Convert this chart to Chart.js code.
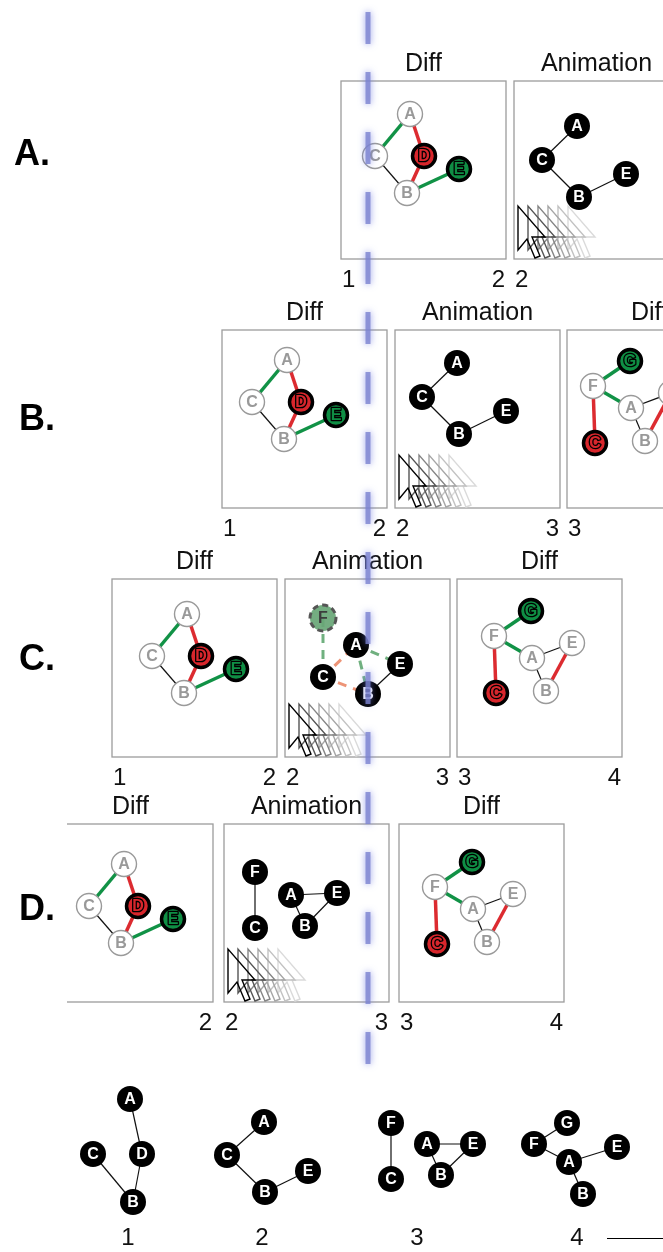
<!DOCTYPE html>
<html>
<head>
<meta charset="utf-8">
<script src="https://cdn.jsdelivr.net/npm/chart.js@4.4.0/dist/chart.umd.min.js"></script>
<style>
  html, body { margin: 0; padding: 0; background: #fff; }
  #wrap { width: 663px; height: 1252px; }
  canvas { display: block; }
</style>
</head>
<body>
<div id="wrap"><canvas id="fig" width="663" height="1252"></canvas></div>
<script>
// page space is 663 x 1252, y grows downward (y axis reversed)
const W = 663, H = 1252;

// ---- rows and panels ----
const rowLetters = ['A.', 'B.', 'C.', 'D.'];
const rowLetterX = [14, 19, 19, 19];
const rowLetterY = [155, 420, 660, 910];

const panelLeft   = [341, 514, 222, 395, 567, 112, 285, 457, 48, 224, 399];
const panelTop    = [81, 81, 330, 330, 330, 579, 579, 579, 824, 824, 824];
const panelTitle  = ['Diff', 'Animation', 'Diff', 'Animation', 'Diff', 'Diff', 'Animation', 'Diff', 'Diff', 'Animation', 'Diff'];
const panelFrom   = ['1', '2', '1', '2', '3', '1', '2', '3', '', '2', '3'];
const panelTo     = ['2', '', '2', '3', '', '2', '3', '4', '2', '3', '4'];
const panelCursor = [false, true, false, true, false, false, true, false, false, true, false];
const PANEL_W = 165, PANEL_H = 178;
const CROP_LEFT = 67; // source figure is cut off here (row D)

// ---- graph shapes ----
// diff 1 -> 2 (relative to node A)
const diffNames = ['A', 'C', 'D', 'E', 'B'];
const diffDx    = [0, -35, 14, 49, -3];
const diffDy    = [0, 42, 42, 55, 79];
const diffState = ['same', 'same', 'removed', 'added', 'same'];
const diffEdges = [['A', 'C', 'added'], ['A', 'D', 'removed'], ['D', 'B', 'removed'], ['C', 'B', 'thin'], ['B', 'E', 'added']];
const diffAnchorX = [410, 287, 187, 124];
const diffAnchorY = [114, 360, 614, 864];

// state 2 in animation panels (relative to node A)
const anim2Names = ['A', 'C', 'E', 'B'];
const anim2Dx    = [0, -35, 49, 2];
const anim2Dy    = [0, 34, 48, 71];
const anim2Edges = [['A', 'C', 'thin'], ['C', 'B', 'thin'], ['B', 'E', 'thin']];
const anim2AnchorX = [577, 457];
const anim2AnchorY = [126, 363];

// diff 3 -> 4 (relative to node F)
const diff3Names = ['F', 'G', 'E', 'A', 'B', 'C'];
const diff3Dx    = [0, 37, 78, 38, 52, 2];
const diff3Dy    = [0, -25, 7, 22, 55, 57];
const diff3State = ['same', 'added', 'same', 'same', 'same', 'removed'];
const diff3Edges = [['F', 'G', 'added'], ['F', 'A', 'added'], ['F', 'C', 'removed'], ['A', 'E', 'thin'], ['A', 'B', 'thin'], ['B', 'E', 'removed']];
const diff3AnchorX = [593, 494, 435];
const diff3AnchorY = [386, 636, 887];

// row C animation, mid transition 2 -> 3
const midNames = ['F', 'A', 'C', 'E', 'B'];
const midX     = [323, 356, 323, 400, 368];
const midY     = [618, 645, 677, 664, 694];
const midState = ['appear', 'black', 'black', 'black', 'black'];
const midEdges = [['F', 'C', 'fadeIn'], ['C', 'A', 'fadeOut'], ['C', 'B', 'fadeOut'], ['A', 'B', 'fadeIn'], ['A', 'E', 'fadeIn'], ['B', 'E', 'thin']];

// row D animation, state 3
const rowD3Names = ['F', 'C', 'A', 'E', 'B'];
const rowD3X     = [255, 255, 291, 337, 305];
const rowD3Y     = [872, 928, 895, 893, 926];
const state3Edges = [['F', 'C', 'thin'], ['A', 'E', 'thin'], ['A', 'B', 'thin'], ['B', 'E', 'thin']];

// bottom strip: states 1..4
const stepLabels = ['1', '2', '3', '4'];
const stepLabelX = [128, 262, 417, 577];
const stepLabelY = 1238;
const step1Names = ['A', 'D', 'C', 'B'];
const step1X = [130, 142, 93, 133];
const step1Y = [1099, 1154, 1154, 1202];
const step1Edges = [['A', 'D', 'thin'], ['D', 'B', 'thin'], ['C', 'B', 'thin']];
const step2Names = ['A', 'C', 'E', 'B'];
const step2X = [264, 227, 308, 265];
const step2Y = [1122, 1155, 1171, 1192];
const step3Names = ['F', 'C', 'A', 'E', 'B'];
const step3X = [391, 391, 427, 473, 441];
const step3Y = [1123, 1179, 1144, 1144, 1175];
const step4Names = ['G', 'F', 'A', 'E', 'B'];
const step4X = [567, 534, 569, 617, 583];
const step4Y = [1123, 1144, 1162, 1147, 1194];
const step4Edges = [['F', 'G', 'thin'], ['F', 'A', 'thin'], ['A', 'E', 'thin'], ['A', 'B', 'thin']];

// playhead
const playheadX = 368;
const playheadY = [12, 1070];

// ---- styles ----
const nodeStyles = {
    black:   { bg: '#000', border: '#000', bw: 0, r: 13, text: '#fff' },
    same:    { bg: '#fff', border: '#9a9a9a', bw: 1.4, r: 12.5, text: '#999' },
    added:   { bg: '#0f8e44', border: '#000', bw: 3.5, r: 11.5, text: '#0f8e44', outline: true },
    removed: { bg: '#d8262c', border: '#000', bw: 3.5, r: 11.5, text: '#d8262c', outline: true },
    appear:  { bg: 'rgba(104,166,118,0.92)', border: 'rgba(0,0,0,0)', bw: 0, r: 13, text: '#3c3c3c', dashedRing: true }
};
const edgeStyles = {
    thin:    { color: '#111', width: 1.2, dash: [] },
    added:   { color: '#119246', width: 3.5, dash: [] },
    removed: { color: '#dc2b30', width: 3.5, dash: [] },
    fadeIn:  { color: 'rgba(104,172,120,0.95)', width: 3, dash: [9, 7] },
    fadeOut: { color: 'rgba(236,142,112,0.95)', width: 3, dash: [9, 7] }
};
const FONT = '"Liberation Sans", Arial, Helvetica, sans-serif';

// ---- build graphs ----
function placeRel(names, dx, dy, ax, ay) {
    const m = {};
    names.forEach((n, i) => { m[n] = { x: ax + dx[i], y: ay + dy[i] }; });
    return m;
}
function placeAbs(names, xs, ys) {
    const m = {};
    names.forEach((n, i) => { m[n] = { x: xs[i], y: ys[i] }; });
    return m;
}
function stateMap(names, states) {
    const m = {};
    names.forEach((n, i) => { m[n] = states ? states[i] : 'black'; });
    return m;
}

const graphs = [];
diffAnchorX.forEach((ax, i) => graphs.push({
    pos: placeRel(diffNames, diffDx, diffDy, ax, diffAnchorY[i]),
    state: stateMap(diffNames, diffState), edges: diffEdges
}));
anim2AnchorX.forEach((ax, i) => graphs.push({
    pos: placeRel(anim2Names, anim2Dx, anim2Dy, ax, anim2AnchorY[i]),
    state: stateMap(anim2Names), edges: anim2Edges
}));
diff3AnchorX.forEach((ax, i) => graphs.push({
    pos: placeRel(diff3Names, diff3Dx, diff3Dy, ax, diff3AnchorY[i]),
    state: stateMap(diff3Names, diff3State), edges: diff3Edges
}));
graphs.push({ pos: placeAbs(midNames, midX, midY), state: stateMap(midNames, midState), edges: midEdges });
graphs.push({ pos: placeAbs(rowD3Names, rowD3X, rowD3Y), state: stateMap(rowD3Names), edges: state3Edges });
graphs.push({ pos: placeAbs(step1Names, step1X, step1Y), state: stateMap(step1Names), edges: step1Edges });
graphs.push({ pos: placeAbs(step2Names, step2X, step2Y), state: stateMap(step2Names), edges: anim2Edges });
graphs.push({ pos: placeAbs(step3Names, step3X, step3Y), state: stateMap(step3Names), edges: state3Edges });
graphs.push({ pos: placeAbs(step4Names, step4X, step4Y), state: stateMap(step4Names), edges: step4Edges });

const datasets = [];

// playhead on top of everything
datasets.push({
    data: [{ x: playheadX, y: playheadY[0] }, { x: playheadX, y: playheadY[1] }],
    showLine: true, pointRadius: 0, borderColor: 'rgba(122,130,208,0.8)', borderWidth: 5,
    borderDash: [32, 28], borderCapStyle: 'butt', glow: true, order: 1, clip: false
});

// nodes grouped by style
Object.keys(nodeStyles).forEach(key => {
    const s = nodeStyles[key];
    const pts = [];
    graphs.forEach(g => {
        Object.keys(g.pos).forEach(n => {
            if (g.state[n] === key) pts.push({ x: g.pos[n].x, y: g.pos[n].y, name: n });
        });
    });
    datasets.push({
        data: pts, nodeStyle: key, showLine: false,
        pointRadius: s.r, pointBackgroundColor: s.bg, pointBorderColor: s.border, pointBorderWidth: s.bw,
        order: 2, clip: false
    });
});

// edges, one line per edge
graphs.forEach(g => {
    g.edges.forEach(([a, b, style]) => {
        const s = edgeStyles[style];
        datasets.push({
            data: [g.pos[a], g.pos[b]].map(p => ({ x: p.x, y: p.y })),
            showLine: true, pointRadius: 0, borderColor: s.color, borderWidth: s.width,
            borderDash: s.dash, borderCapStyle: 'butt', order: 3, clip: false
        });
    });
});

// ---- drawing helpers ----
function drawCursorTrail(ctx, x, y) {
    const arrow = [[0, 0], [0, 44], [9, 33], [17, 52], [22, 50], [14, 31], [27, 31]];
    const shades = ['#dadada', '#c2c2c2', '#a6a6a6', '#858585', '#555', '#000'];
    const offs = [50, 40, 30, 20, 10, 0];
    ctx.save();
    ctx.lineWidth = 1.4;
    offs.forEach((o, k) => {
        ctx.strokeStyle = shades[k];
        ctx.beginPath();
        arrow.forEach(([px, py], i) => {
            if (i === 0) ctx.moveTo(x + o + px, y + py); else ctx.lineTo(x + o + px, y + py);
        });
        ctx.closePath();
        ctx.stroke();
    });
    ctx.restore();
}

const figurePlugin = {
    id: 'figure',
    beforeDatasetsDraw(chart) {
        const ctx = chart.ctx;
        const sx = v => chart.scales.x.getPixelForValue(v);
        const sy = v => chart.scales.y.getPixelForValue(v);
        ctx.save();
        ctx.fillStyle = '#fff';
        ctx.fillRect(0, 0, W, H);

        // row letters
        ctx.fillStyle = '#000';
        ctx.font = 'bold 36px ' + FONT;
        ctx.textBaseline = 'middle';
        ctx.textAlign = 'left';
        rowLetters.forEach((t, i) => ctx.fillText(t, sx(rowLetterX[i]), sy(rowLetterY[i])));

        panelLeft.forEach((left, i) => {
            const top = panelTop[i];
            const x0 = sx(left), y0 = sy(top), x1 = sx(left + PANEL_W), y1 = sy(top + PANEL_H);
            // frame, clipped where the source figure was cropped
            ctx.save();
            ctx.beginPath();
            ctx.rect(sx(CROP_LEFT), 0, W, H);
            ctx.clip();
            ctx.strokeStyle = '#9c9c9c';
            ctx.lineWidth = 1.3;
            ctx.strokeRect(x0, y0, x1 - x0, y1 - y0);
            ctx.restore();

            // title
            ctx.fillStyle = '#111';
            ctx.font = '25px ' + FONT;
            ctx.textAlign = 'center';
            ctx.fillText(panelTitle[i], (x0 + x1) / 2, y0 - 17);

            // step numbers under the frame
            const ny = y1 + 21;
            ctx.font = '24px ' + FONT;
            ctx.textAlign = 'left';
            if (panelFrom[i]) ctx.fillText(panelFrom[i], x0 + 1, ny);
            ctx.textAlign = 'right';
            if (panelTo[i]) ctx.fillText(panelTo[i], x1 - 1, ny);

            if (panelCursor[i]) drawCursorTrail(ctx, x0 + 4, y0 + 125);
        });

        // bottom step labels
        ctx.fillStyle = '#111';
        ctx.font = '24px ' + FONT;
        ctx.textAlign = 'center';
        stepLabels.forEach((t, i) => ctx.fillText(t, sx(stepLabelX[i]), sy(stepLabelY)));
        ctx.strokeStyle = '#000';
        ctx.lineWidth = 1;
        ctx.beginPath();
        ctx.moveTo(sx(607), sy(stepLabelY) + 0.5);
        ctx.lineTo(sx(W), sy(stepLabelY) + 0.5);
        ctx.stroke();
        ctx.restore();
    },
    beforeDatasetDraw(chart, args) {
        const ds = chart.data.datasets[args.index];
        if (ds.glow) {
            chart.ctx.save();
            chart.ctx.shadowColor = 'rgba(110,120,225,0.9)';
            chart.ctx.shadowBlur = 7;
        }
    },
    afterDatasetDraw(chart, args) {
        const ds = chart.data.datasets[args.index];
        const ctx = chart.ctx;
        if (ds.glow) { ctx.restore(); return; }
        if (!ds.nodeStyle) return;
        const s = nodeStyles[ds.nodeStyle];
        ctx.save();
        ctx.font = 'bold 16px ' + FONT;
        ctx.textAlign = 'center';
        ctx.textBaseline = 'middle';
        args.meta.data.forEach((el, i) => {
            const name = ds.data[i].name;
            if (s.dashedRing) {
                ctx.save();
                ctx.strokeStyle = '#555';
                ctx.lineWidth = 3;
                ctx.setLineDash([6, 4]);
                ctx.beginPath();
                ctx.arc(el.x, el.y, s.r, 0, Math.PI * 2);
                ctx.stroke();
                ctx.restore();
            }
            if (s.outline) {
                ctx.lineWidth = 2.6;
                ctx.strokeStyle = '#000';
                ctx.lineJoin = 'round';
                ctx.strokeText(name, el.x, el.y + 1);
            }
            ctx.fillStyle = s.text;
            ctx.fillText(name, el.x, el.y + 1);
        });
        ctx.restore();
    }
};

new Chart(document.getElementById('fig'), {
    type: 'scatter',
    data: { datasets: datasets },
    options: {
        responsive: false,
        animation: false,
        events: [],
        devicePixelRatio: 1,
        layout: { padding: 0, autoPadding: false },
        plugins: { legend: { display: false }, tooltip: { enabled: false } },
        scales: {
            x: { type: 'linear', min: 0, max: W, display: false },
            y: { type: 'linear', min: 0, max: H, reverse: true, display: false }
        }
    },
    plugins: [figurePlugin]
});
</script>
</body>
</html>
